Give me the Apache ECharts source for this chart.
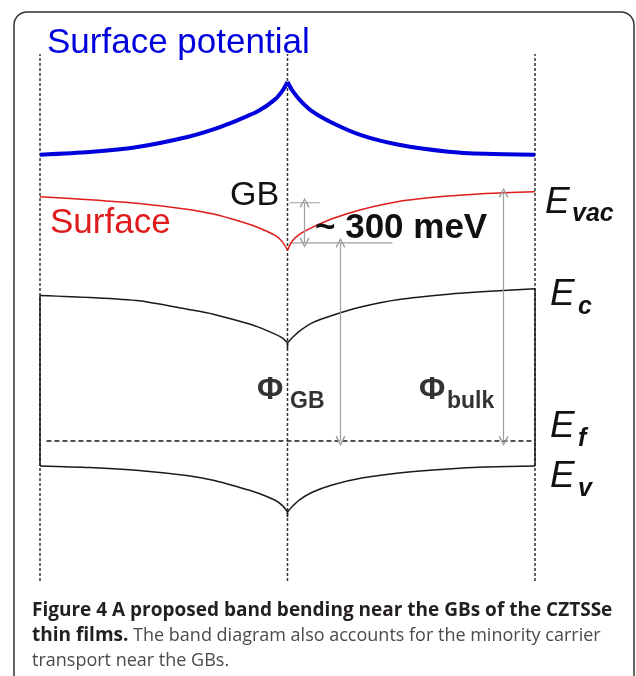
<!DOCTYPE html>
<html><head><meta charset="utf-8">
<script src="https://cdn.jsdelivr.net/npm/echarts@6/dist/echarts.min.js"></script>
<style>html,body{margin:0;padding:0;background:#fff}#c{width:636px;height:676px}</style>
</head><body><div id="c"></div>
<script>
// position across the grain (GB at 0, grain edges at +-100), energy in eV (Ef = 0)
const posLeft  = [-100, -80, -60, -40, -30, -20, -12, -5, -2, 0];
const posRight = [0, 2, 5, 10, 18, 30, 45, 65, 80, 100];
const surfPotLeft  = [2.145, 2.165, 2.205, 2.28, 2.335, 2.405, 2.47, 2.56, 2.625, 2.69];
const surfPotRight = [2.69, 2.625, 2.555, 2.47, 2.385, 2.29, 2.22, 2.168, 2.152, 2.145];
const evacLeft  = [1.83, 1.808, 1.78, 1.735, 1.70, 1.65, 1.60, 1.54, 1.49, 1.43];
const evacRight = [1.43, 1.50, 1.55, 1.60, 1.665, 1.735, 1.795, 1.835, 1.855, 1.868];
const ecLeft  = [1.09, 1.075, 1.05, 0.985, 0.95, 0.90, 0.855, 0.80, 0.77, 0.735];
const ecRight = [0.735, 0.775, 0.825, 0.885, 0.94, 1.005, 1.06, 1.10, 1.12, 1.14];
const evLeft  = [-0.188, -0.20, -0.222, -0.262, -0.295, -0.345, -0.39, -0.445, -0.485, -0.533];
const evRight = [-0.533, -0.49, -0.44, -0.385, -0.33, -0.278, -0.24, -0.21, -0.196, -0.188];
const cuspTail = [0.69, -0.57];          // Ec, Ev small tails under the GB cusp
const fermiLevel = 0;
const fermiStart = -97.4;
const boundaryX = [-100, 0, 100];
const arrowX = [6.9, 21.4, 87.3];
const arrowTop = [1.785, 1.485, 1.86];
const arrowBottom = [1.485, 0, 0];
const refLineY = [1.785, 1.485];
const refLineEnd = [13, 42.4];
const refLineStart = 0.8;
const yMin = -1.05, yMax = 2.9;

const pairs = (xs, ys) => xs.map((x, i) => [x, ys[i]]);
const BLACK = '#1a1a1a', BLUE = '#0000dc', RED = '#e01b1b', GRAY = '#a0a0a0';
function curve(data, color, width) {
  return {type: 'line', data, smooth: 0.25, symbol: 'none', silent: true,
    lineStyle: {color, width}, z: 3};
}
function seg(data, color, width, type, z) {
  return {type: 'line', data, symbol: 'none', silent: true,
    lineStyle: {color, width, type: type || 'solid'}, z: z || 2};
}
const chev = 'path://M5,0 L10,9 L8.6,9.8 L5,2.8 L1.4,9.8 L0,9 Z';

const series = [];
boundaryX.forEach(x => series.push(seg([[x, yMin], [x, yMax]], '#333', 1.5, [3, 2], 1)));
series.push(curve(pairs(posLeft, surfPotLeft), BLUE, 4));
series.push(curve(pairs(posRight, surfPotRight), BLUE, 4));
series.push(curve(pairs(posLeft, evacLeft), RED, 1.5));
series.push(curve(pairs(posRight, evacRight), RED, 1.5));
series.push(curve(pairs(posLeft, ecLeft), BLACK, 1.5));
series.push(curve(pairs(posRight, ecRight), BLACK, 1.5));
series.push(curve(pairs(posLeft, evLeft), BLACK, 1.5));
series.push(curve(pairs(posRight, evRight), BLACK, 1.5));
series.push(seg([[0, ecLeft[ecLeft.length - 1]], [0, cuspTail[0]]], BLACK, 1.5));
series.push(seg([[0, evLeft[evLeft.length - 1]], [0, cuspTail[1]]], BLACK, 1.5));
series.push(seg([[posLeft[0], ecLeft[0]], [posLeft[0], evLeft[0]]], BLACK, 1.5, 'solid', 3));
series.push(seg([[posRight[posRight.length - 1], ecRight[ecRight.length - 1]],
                 [posRight[posRight.length - 1], evRight[evRight.length - 1]]], BLACK, 1.5, 'solid', 3));
series.push(seg([[fermiStart, fermiLevel], [100, fermiLevel]], BLACK, 1.5, [5, 3], 3));
refLineY.forEach((y, i) => series.push(seg([[refLineStart, y], [refLineEnd[i], y]], GRAY, 1.2, 'solid', 2)));
series.push({type: 'line', data: [], silent: true, symbol: 'none',
  markLine: {silent: true, animation: false, symbol: [chev, chev], symbolSize: [10, 10],
    label: {show: false},
    lineStyle: {color: GRAY, width: 1.2, type: 'solid'},
    itemStyle: {color: GRAY},
    emphasis: {disabled: true},
    data: arrowX.map((x, i) => [{coord: [x, arrowTop[i]]}, {coord: [x, arrowBottom[i]]}])}});

const SANS = '"Liberation Sans", Arial, sans-serif';
function T(text, x, base, size, font, fill) {
  return {type: 'text', x, y: base - 0.36 * size + 3, z: 10,
    style: {text, font: font + ' ' + size + 'px ' + SANS, fill, align: 'left', verticalAlign: 'middle'}};
}
const CAP = '"Open Sans", sans-serif';
function C(text, base) {
  return {type: 'text', x: 32, y: base - 0.36 * 18, z: 10,
    style: {text, font: '18px ' + CAP, fill: '#4a4a4a', align: 'left', verticalAlign: 'middle',
      rich: {b: {font: 'bold 19px ' + CAP, fill: '#231f20'}}}};
}
const graphic = [
  {type: 'rect', shape: {x: 14, y: 12, width: 620, height: 680, r: 13},
   style: {fill: 'none', stroke: '#333', lineWidth: 1.5}, z: 0},
  T('Surface potential', 47, 53, 35, 'normal', BLUE),
  T('GB', 230, 205, 34, 'normal', '#111'),
  T('Surface', 50, 233, 35, 'normal', RED),
  T('~ 300 meV', 315, 238, 35, 'bold', '#111'),
  T('E', 545, 213, 37, 'italic', '#111'), T('vac', 572, 220, 25, 'italic bold', '#111'),
  T('E', 550, 305, 37, 'italic', '#111'), T('c', 578, 313, 25, 'italic bold', '#111'),
  T('E', 550, 437, 37, 'italic', '#111'), T('f', 578, 445, 25, 'italic bold', '#111'),
  T('E', 550, 487, 37, 'italic', '#111'), T('v', 578, 495, 25, 'italic bold', '#111'),
  T('\u03a6', 257, 399, 32, 'bold', '#333'), T('GB', 290, 407, 23, 'bold', '#333'),
  T('\u03a6', 419, 399, 32, 'bold', '#333'), T('bulk', 447, 407, 23, 'bold', '#333'),
  C('{b|Figure 4 A proposed band bending near the GBs of the CZTSSe}', 617),
  C('{b|thin films.} The band diagram also accounts for the minority carrier', 642),
  C('transport near the GBs.', 667)
];

const chart = echarts.init(document.getElementById('c'), null, {renderer: 'canvas'});
chart.setOption({
  animation: false,
  backgroundColor: '#fff',
  grid: {left: 40, right: 101, top: 54, bottom: 95},
  xAxis: {type: 'value', min: -100, max: 100, show: false},
  yAxis: {type: 'value', min: yMin, max: yMax, show: false},
  series,
  graphic
});
</script></body></html>
